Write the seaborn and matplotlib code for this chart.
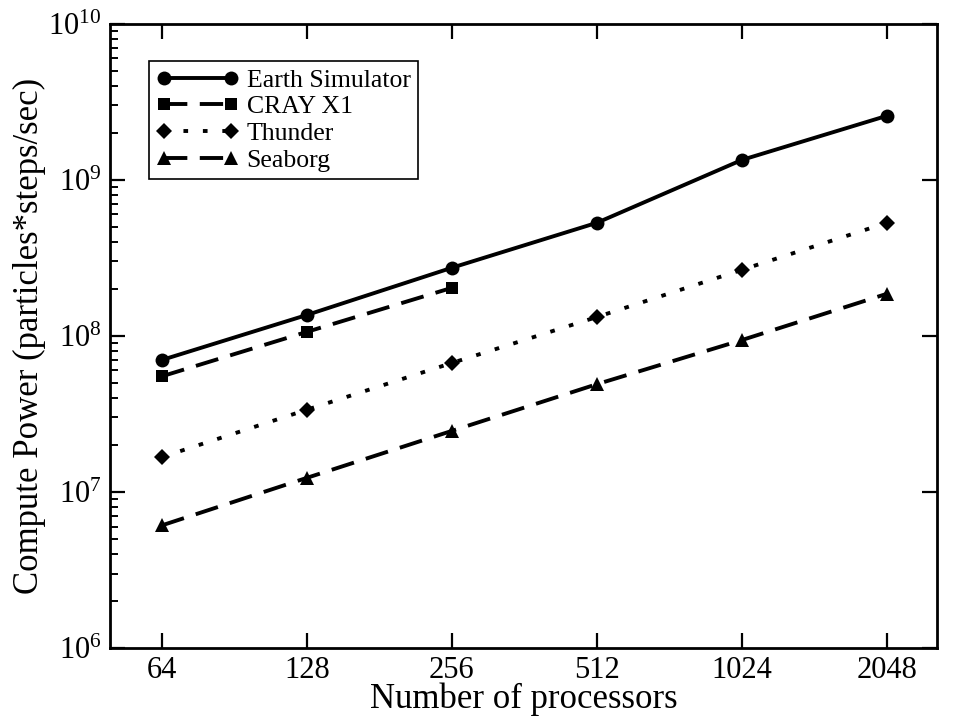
import pandas as pd
import matplotlib.pyplot as plt
import seaborn as sns
from matplotlib.ticker import FixedLocator, FixedFormatter, LogLocator, NullLocator

sns.set_theme(style="ticks")
plt.rcParams['font.family'] = ['Liberation Serif', 'DejaVu Serif']
plt.rcParams['mathtext.fontset'] = 'custom'
plt.rcParams['mathtext.rm'] = 'Liberation Serif'
plt.rcParams['mathtext.it'] = 'Liberation Serif:italic'
for k in ['text.color', 'axes.labelcolor', 'xtick.color', 'ytick.color']:
    plt.rcParams[k] = 'black'

# Dados

procs = [64, 128, 256, 512, 1024, 2048]
earth = [7.0e7, 1.36e8, 2.73e8, 5.3e8, 1.34e9, 2.57e9]
cray_procs = [64, 128, 256]
cray = [5.5e7, 1.06e8, 2.03e8]
thunder = [1.67e7, 3.36e7, 6.7e7, 1.32e8, 2.65e8, 5.3e8]
seaborg = [6.1e6, 1.23e7, 2.46e7, 4.9e7, 9.4e7, 1.86e8]

series = [
    ('Earth Simulator', procs, earth, 'o', 10, None),
    ('CRAY X1', cray_procs, cray, 's', 8.5, (6, 3.2)),
    ('Thunder', procs, thunder, 'D', 8, (1.2, 3.8)),
    ('Seaborg', procs, seaborg, '^', 10, (6, 3.2)),
]

fig = plt.figure(figsize=(9.57, 7.18), dpi=100)
ax = fig.add_axes([0.115, 0.0975, 0.864, 0.8695])

for nome, x, y, mk, ms, dash in series:
    df = pd.DataFrame({'procs': x, 'power': y})
    sns.lineplot(data=df, x='procs', y='power', ax=ax, color='black',
                 marker=mk, markersize=ms, markeredgewidth=0,
                 linewidth=2.8, label=nome)
    l = ax.lines[-1]
    if dash is None:
        l.set_linestyle('-')
    else:
        l.set_dashes(dash)

ax.set_xscale('log', base=2)
ax.set_yscale('log')
ax.set_xlim(50, 2600)
ax.set_ylim(1e6, 1e10)

ax.xaxis.set_major_locator(FixedLocator(procs))
ax.xaxis.set_major_formatter(FixedFormatter([str(p) for p in procs]))
ax.xaxis.set_minor_locator(NullLocator())
ax.yaxis.set_major_locator(LogLocator(base=10, numticks=10))
ax.yaxis.set_minor_locator(LogLocator(base=10, subs=range(2, 10), numticks=20))

ax.tick_params(which='major', direction='in', length=11, width=1.6,
               labelsize=22, top=True, right=True, pad=6)
ax.tick_params(which='minor', direction='in', length=6, width=1.4,
               left=True, right=False)
for s in ax.spines.values():
    s.set_linewidth(2)
    s.set_color('black')

ax.set_xlabel('Number of processors', fontsize=25, labelpad=-2)
ax.set_ylabel('Compute Power (particles*steps/sec)', fontsize=25, labelpad=2)

leg = ax.legend(loc='upper left', bbox_to_anchor=(0.047, 0.94), fontsize=18.5,
                frameon=True, fancybox=False, edgecolor='black', framealpha=1,
                handlelength=3.2, numpoints=2, borderpad=0.3,
                labelspacing=0.14, handletextpad=0.3, borderaxespad=0)
leg.get_frame().set_linewidth(1.2)

plt.savefig('out.png', dpi=100)
